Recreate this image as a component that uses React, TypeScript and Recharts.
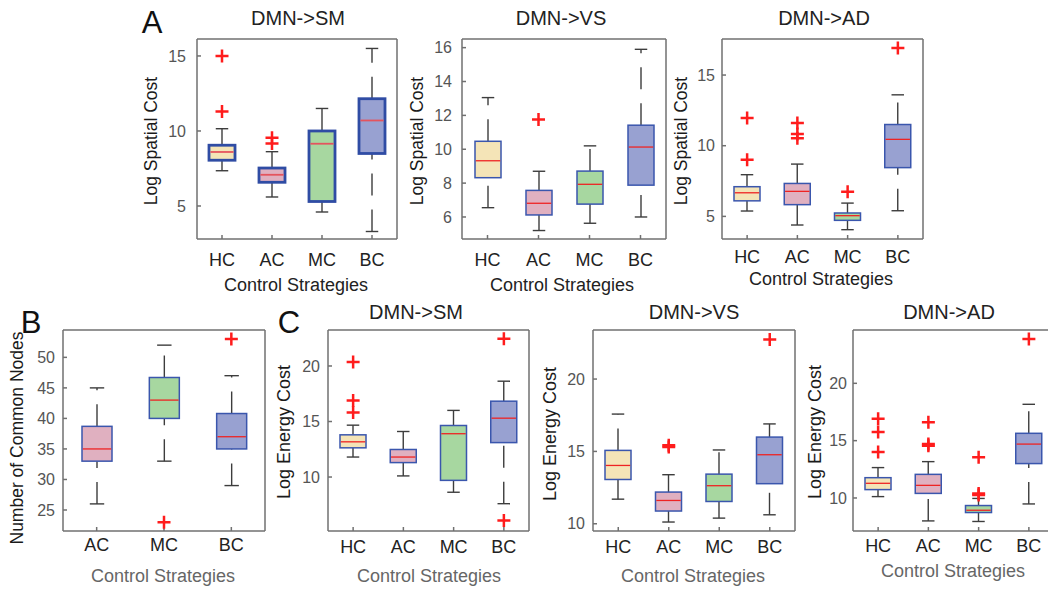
import React from 'react'
import { Bar, ComposedChart, Scatter, XAxis, YAxis } from 'recharts'

const groups = ['HC', 'AC', 'MC', 'BC']
const groupsB = ['AC', 'MC', 'BC']

// one row per group: [lower whisker, Q1, median, Q3, upper whisker]
const spatialSM = [
  [7.35, 8.05, 8.6, 9.05, 10.15],
  [5.6, 6.58, 7.08, 7.53, 8.62],
  [4.6, 5.3, 9.15, 10.0, 11.5],
  [3.3, 8.5, 10.7, 12.15, 15.5],
]
const spatialSMOut = [[15.0, 11.3], [9.55, 9.17], [], []]

const spatialVS = [
  [6.55, 8.32, 9.32, 10.47, 13.05],
  [5.2, 6.12, 6.81, 7.57, 8.7],
  [5.63, 6.76, 7.93, 8.71, 10.2],
  [6.0, 7.88, 10.13, 11.42, 15.9],
]
const spatialVSOut = [[], [11.75], [], []]

const spatialAD = [
  [5.38, 6.1, 6.67, 7.1, 7.95],
  [4.39, 5.83, 6.77, 7.33, 8.7],
  [4.06, 4.72, 5.05, 5.24, 5.94],
  [5.4, 8.45, 10.45, 11.5, 13.6],
]
const spatialADOut = [[11.96, 9.0], [11.6, 10.83, 10.52], [6.75], [16.92]]

const commonNodes = [
  [26, 33, 35, 38.7, 45],
  [33, 40, 43, 46.7, 52],
  [29, 35, 37, 40.8, 47],
]
const commonNodesOut = [[], [23], [53]]

const energySM = [
  [11.8, 12.63, 13.17, 13.8, 14.67],
  [10.1, 11.3, 11.8, 12.48, 14.1],
  [8.63, 9.7, 13.9, 14.64, 16.0],
  [7.6, 13.1, 15.3, 16.83, 18.63],
]
const energySMOut = [[20.35, 16.9, 15.8], [], [], [22.45, 6.08]]

const energyVS = [
  [11.7, 13.06, 14.03, 15.07, 17.58],
  [10.12, 10.88, 11.61, 12.19, 13.39],
  [10.39, 11.54, 12.63, 13.43, 15.1],
  [10.62, 12.77, 14.77, 15.99, 16.9],
]
const energyVSOut = [[], [15.3, 15.42], [], [22.74]]

const energyAD = [
  [10.12, 10.73, 11.28, 11.77, 12.65],
  [8.0, 10.4, 11.1, 12.06, 13.17],
  [7.95, 8.73, 8.93, 9.34, 9.96],
  [9.48, 13.0, 14.7, 15.64, 18.17],
]
const energyADOut = [[16.9, 15.76, 14.0], [16.6, 14.7, 14.55], [13.55, 10.4, 10.25], [23.86]]

const spatialTicksSM = [5, 10, 15]
const spatialTicksVS = [6, 8, 10, 12, 14, 16]
const spatialTicksAD = [5, 10, 15]
const commonTicks = [25, 30, 35, 40, 45, 50]
const energyTicks = [10, 15, 20]

const FILL: Record<string, string> = {
  HC: '#f4e4b7',
  AC: '#e0b0c0',
  MC: '#a7d7a0',
  BC: '#98a1d1',
}
const AXIS = '#707070'

function BoxShape(props: any) {
  const { x, y, width, height, payload, heavy, capW } = props
  const { lo, q1, med, q3, hi, cat } = payload
  const top = Math.min(y, y + height)
  const ppu = Math.abs(height) / (hi - lo)
  const py = (v: number) => top + (hi - v) * ppu
  const cx = x + width / 2
  const wk = { stroke: '#3d3d3d', strokeWidth: 1.4 }
  return (
    <g>
      {/* whiskers run from the lower value up, like MATLAB's dashed lines */}
      <line x1={cx} x2={cx} y1={py(q3)} y2={py(hi)} {...wk} strokeDasharray="22 14" />
      <line x1={cx} x2={cx} y1={py(lo)} y2={py(q1)} {...wk} strokeDasharray="22 14" />
      <line x1={cx - capW / 2} x2={cx + capW / 2} y1={py(hi)} y2={py(hi)} {...wk} />
      <line x1={cx - capW / 2} x2={cx + capW / 2} y1={py(lo)} y2={py(lo)} {...wk} />
      <rect
        x={x}
        y={py(q3)}
        width={width}
        height={py(q1) - py(q3)}
        fill={FILL[cat]}
        stroke={heavy ? '#2f4ca4' : '#3a56ad'}
        strokeWidth={heavy ? 2.8 : 1.5}
      />
      <line
        x1={x + (heavy ? 1.4 : 0.8)}
        x2={x + width - (heavy ? 1.4 : 0.8)}
        y1={py(med)}
        y2={py(med)}
        stroke={heavy ? '#e4545e' : '#ee2323'}
        strokeWidth={heavy ? 1.8 : 1.3}
      />
    </g>
  )
}

function Plus(props: any) {
  const { cx, cy } = props
  if (!Number.isFinite(cx) || !Number.isFinite(cy)) return <g />
  const r = 6.5
  return (
    <path
      d={`M${cx - r},${cy}H${cx + r}M${cx},${cy - r}V${cy + r}`}
      stroke="#ff1c1c"
      strokeWidth={2.5}
      fill="none"
    />
  )
}

interface PanelProps {
  cats: string[]
  stats: number[][]
  outs: number[][]
  domain: [number, number]
  ticks: number[]
  left: number
  top: number
  width: number
  height: number
  boxW: number
  heavy?: boolean
  yGap: number
  xCapTop: number
}

function BoxPanel(p: PanelProps) {
  const data = p.cats.map((c, i) => {
    const [lo, q1, med, q3, hi] = p.stats[i]
    const row: any = { cat: c, lo, q1, med, q3, hi }
    p.outs[i].forEach((v, k) => {
      row['o' + k] = v
    })
    return row
  })
  const nOut = Math.max(...p.outs.map((o) => o.length))
  const padL = 60
  const padT = 10
  const padR = 10
  const padB = 40
  const line = { stroke: AXIS, strokeWidth: 1.5 }
  return (
    <div style={{ position: 'absolute', left: p.left - padL, top: p.top - padT }}>
      <ComposedChart
        width={p.width + padL + padR}
        height={p.height + padT + padB}
        data={data}
        margin={{ top: padT - 1, right: padR - 1, bottom: 0, left: 0 }}
      >
        <XAxis
          dataKey="cat"
          height={padB}
          axisLine={line}
          tickLine={line}
          tickSize={-4}
          tickMargin={p.xCapTop + 4}
          tick={{ fontSize: 18, fill: '#222' }}
          interval={0}
        />
        <XAxis
          xAxisId="top"
          dataKey="cat"
          orientation="top"
          height={1}
          axisLine={line}
          tickLine={line}
          tickSize={-4}
          tick={false}
        />
        <YAxis
          type="number"
          domain={p.domain}
          ticks={p.ticks}
          allowDataOverflow
          width={padL}
          axisLine={line}
          tickLine={line}
          tickSize={-4}
          tickMargin={p.yGap + 4}
          tick={{ fontSize: 16, fill: '#555' }}
          interval={0}
        />
        <YAxis
          yAxisId="right"
          orientation="right"
          type="number"
          domain={p.domain}
          ticks={p.ticks}
          allowDataOverflow
          width={1}
          axisLine={line}
          tickLine={line}
          tickSize={-4}
          tick={false}
        />
        <Bar
          dataKey={(d: any) => [d.lo, d.hi]}
          barSize={p.boxW}
          isAnimationActive={false}
          shape={(sp: any) => <BoxShape {...sp} heavy={p.heavy} capW={p.boxW * 0.48} />}
        />
        {Array.from({ length: nOut }, (_, k) => (
          <Scatter key={k} dataKey={'o' + k} isAnimationActive={false} shape={Plus} />
        ))}
      </ComposedChart>
    </div>
  )
}

function Txt(props: {
  x: number
  y: number
  size: number
  color?: string
  rotate?: boolean
  children: React.ReactNode
}) {
  return (
    <div
      style={{
        position: 'absolute',
        left: props.x,
        top: props.y,
        fontSize: props.size,
        lineHeight: 1,
        color: props.color ?? '#1a1a1a',
        whiteSpace: 'nowrap',
        transform: `translate(-50%, -50%)${props.rotate ? ' rotate(-90deg)' : ''}`,
      }}
    >
      {props.children}
    </div>
  )
}

export default function App() {
  return (
    <div
      style={{
        position: 'fixed',
        left: 0,
        top: 0,
        width: 1048,
        height: 589,
        overflow: 'hidden',
        background: '#fff',
        fontFamily: '"Liberation Sans", Arial, sans-serif',
      }}
    >
      <BoxPanel cats={groups} stats={spatialSM} outs={spatialSMOut} domain={[2.8, 16.13]} ticks={spatialTicksSM}
        left={197} top={39} width={200} height={200} boxW={26} heavy yGap={11} xCapTop={14} />
      <BoxPanel cats={groups} stats={spatialVS} outs={spatialVSOut} domain={[4.7, 16.51]} ticks={spatialTicksVS}
        left={462} top={39} width={204} height={200} boxW={26} yGap={10} xCapTop={14} />
      <BoxPanel cats={groups} stats={spatialAD} outs={spatialADOut} domain={[3.4, 17.55]} ticks={spatialTicksAD}
        left={722} top={39} width={201} height={200} boxW={26} yGap={7} xCapTop={11} />
      <BoxPanel cats={groupsB} stats={commonNodes} outs={commonNodesOut} domain={[21.56, 54.48]} ticks={commonTicks}
        left={63} top={330} width={202} height={201} boxW={30} yGap={8} xCapTop={7} />
      <BoxPanel cats={groups} stats={energySM} outs={energySMOut} domain={[5.14, 23.24]} ticks={energyTicks}
        left={328} top={330} width={201} height={201} boxW={26} yGap={8} xCapTop={9} />
      <BoxPanel cats={groups} stats={energyVS} outs={energyVSOut} domain={[9.5, 23.39]} ticks={energyTicks}
        left={593} top={330} width={202} height={201} boxW={26} yGap={8} xCapTop={9} />
      <BoxPanel cats={groups} stats={energyAD} outs={energyADOut} domain={[7.12, 24.65]} ticks={energyTicks}
        left={853} top={330} width={201} height={201} boxW={26} yGap={6} xCapTop={8} />

      <Txt x={152} y={22} size={31} color="#111">A</Txt>
      <Txt x={31} y={322} size={31} color="#111">B</Txt>
      <Txt x={289} y={322} size={31} color="#111">C</Txt>

      <Txt x={298} y={18} size={20} color="#222">{'DMN->SM'}</Txt>
      <Txt x={561} y={18} size={20} color="#222">{'DMN->VS'}</Txt>
      <Txt x={824} y={18} size={20} color="#222">{'DMN->AD'}</Txt>
      <Txt x={416} y={312} size={20} color="#222">{'DMN->SM'}</Txt>
      <Txt x={694} y={312} size={20} color="#222">{'DMN->VS'}</Txt>
      <Txt x={949} y={312} size={20} color="#222">{'DMN->AD'}</Txt>

      <Txt x={152} y={141} size={17.5} rotate>Log Spatial Cost</Txt>
      <Txt x={418} y={141} size={17.5} rotate>Log Spatial Cost</Txt>
      <Txt x={682} y={141} size={17.5} rotate>Log Spatial Cost</Txt>
      <Txt x={18} y={438} size={17.5} rotate>Number of Common Nodes</Txt>
      <Txt x={284} y={432} size={18} rotate>Log Energy Cost</Txt>
      <Txt x={550} y={434} size={18} rotate>Log Energy Cost</Txt>
      <Txt x={815} y={432} size={18} rotate>Log Energy Cost</Txt>

      <Txt x={296} y={285} size={18} color="#222">Control Strategies</Txt>
      <Txt x={562} y={285} size={18} color="#222">Control Strategies</Txt>
      <Txt x={821} y={279} size={18} color="#222">Control Strategies</Txt>
      <Txt x={163} y={576} size={18} color="#666">Control Strategies</Txt>
      <Txt x={429} y={576} size={18} color="#666">Control Strategies</Txt>
      <Txt x={693} y={576} size={18} color="#666">Control Strategies</Txt>
      <Txt x={953} y={571} size={18} color="#666">Control Strategies</Txt>
    </div>
  )
}
